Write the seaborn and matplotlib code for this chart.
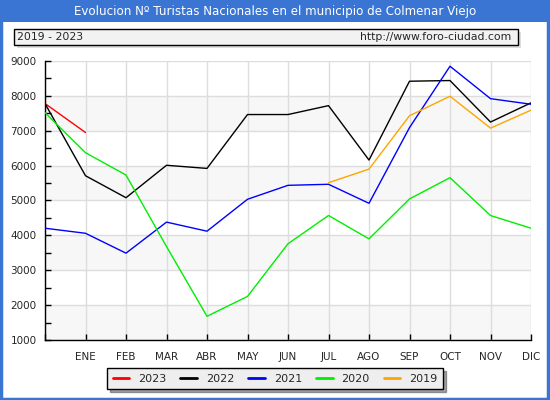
import seaborn as sns
import matplotlib.pyplot as plt
import pandas as pd
import numpy as np
from matplotlib.patches import Rectangle
from matplotlib.lines import Line2D

# position 0 = December of the previous year (no label)
months = ['', 'ENE', 'FEB', 'MAR', 'ABR', 'MAY', 'JUN', 'JUL', 'AGO', 'SEP', 'OCT', 'NOV', 'DIC']
years = ['2023', '2022', '2021', '2020', '2019']
colors = ['#ff0000', '#000000', '#0000ff', '#00ee00', '#ffa500']

v2023 = [7780, 6950]
v2022 = [7780, 5710, 5080, 6010, 5920, 7465, 7465, 7720, 6160, 8420, 8440, 7250, 7800]
v2021 = [4205, 4060, 3490, 4380, 4120, 5035, 5435, 5465, 4920, 7090, 8850, 7920, 7760]
v2020 = [7520, 6370, 5730, 3680, 1680, 2250, 3760, 4570, 3900, 5045, 5655, 4570, 4205]
v2019 = [None] * 7 + [5510, 5900, 7430, 7990, 7075, 7590]

series = {'2023': v2023, '2022': v2022, '2021': v2021, '2020': v2020, '2019': v2019}
rows = []
for yr, vals in series.items():
    for i, v in enumerate(vals):
        if v is not None:
            rows.append({'pos': i, 'value': v, 'year': yr})
df = pd.DataFrame(rows)

sns.set_theme(style='white')
plt.rcParams['font.family'] = ['DejaVu Sans']

fig = plt.figure(figsize=(5.5, 4), dpi=100)
blue = '#3a75d4'

# title bar and frame
fig.patches.append(Rectangle((0, 1 - 22 / 400), 1, 22 / 400, transform=fig.transFigure,
                             facecolor=blue, edgecolor='none', zorder=0))
fig.patches.append(Rectangle((0.002, 0.003), 0.994, 0.99, transform=fig.transFigure,
                             facecolor='none', edgecolor=blue, linewidth=2.5, zorder=5))
fig.text(0.5, 1 - 11 / 400, 'Evolucion Nº Turistas Nacionales en el municipio de Colmenar Viejo',
         color='white', ha='center', va='center', fontsize=8.6)

# subtitle box with shadow
bx0, bx1 = 14 / 550, 518 / 550
by0, by1 = 1 - 45 / 400, 1 - 29 / 400
fig.patches.append(Rectangle((bx0 + 3 / 550, by0 - 3 / 400), bx1 - bx0, by1 - by0,
                             transform=fig.transFigure, facecolor='#dddddd', edgecolor='none', zorder=1))
fig.patches.append(Rectangle((bx0, by0), bx1 - bx0, by1 - by0, transform=fig.transFigure,
                             facecolor='#f2f2f2', edgecolor='black', linewidth=1, zorder=2))
fig.text(bx0 + 3 / 550, (by0 + by1) / 2, '2019 - 2023', fontsize=7.8, va='center', ha='left', zorder=3)
fig.text(bx1 - 7 / 550, (by0 + by1) / 2, 'http://www.foro-ciudad.com', fontsize=7.8,
         va='center', ha='right', zorder=3)

ax = fig.add_axes([45 / 550, 60 / 400, 486 / 550, 279 / 400])
ax.set_facecolor('white')
for lo in (1000, 3000, 5000, 7000):
    ax.axhspan(lo, lo + 1000, color='#f7f7f7', zorder=0, lw=0)

sns.lineplot(data=df, x='pos', y='value', hue='year', hue_order=years,
             palette=dict(zip(years, colors)), linewidth=1, legend=False, ax=ax, zorder=3)

ax.set_xlim(0, 12)
ax.set_ylim(1000, 9000)
ax.set_xticks(range(13))
ax.set_xticklabels(months, fontsize=7.5)
ax.set_yticks(range(1000, 9001, 1000))
ax.set_yticklabels([str(v) for v in range(1000, 9001, 1000)], fontsize=7.5)
ax.set_yticks(range(1500, 9000, 1000), minor=True)
ax.grid(True, which='major', color='#dddddd', linewidth=1, zorder=1)
ax.set_axisbelow(True)
ax.tick_params(axis='both', which='both', direction='in', length=4, width=1, color='black',
               pad=6, left=True, bottom=True)
ax.tick_params(axis='x', pad=9)
ax.set_xlabel('')
ax.set_ylabel('')
for s in ('top', 'right'):
    ax.spines[s].set_visible(False)
for s in ('left', 'bottom'):
    ax.spines[s].set_color('black')
    ax.spines[s].set_linewidth(1)

# legend with shadow
handles = [Line2D([0], [0], color=c, lw=2) for c in colors]
leg = fig.legend(handles, years, loc='center', bbox_to_anchor=(275 / 550, 1 - 378.5 / 400),
                 ncol=5, fontsize=8, frameon=True, fancybox=False, shadow=True,
                 handlelength=1.5, handletextpad=0.8, columnspacing=1.25, borderpad=0.5)
leg.get_frame().set_facecolor('#eeeeee')
leg.get_frame().set_edgecolor('black')
leg.get_frame().set_alpha(1)

fig.savefig('out.png', dpi=100)
